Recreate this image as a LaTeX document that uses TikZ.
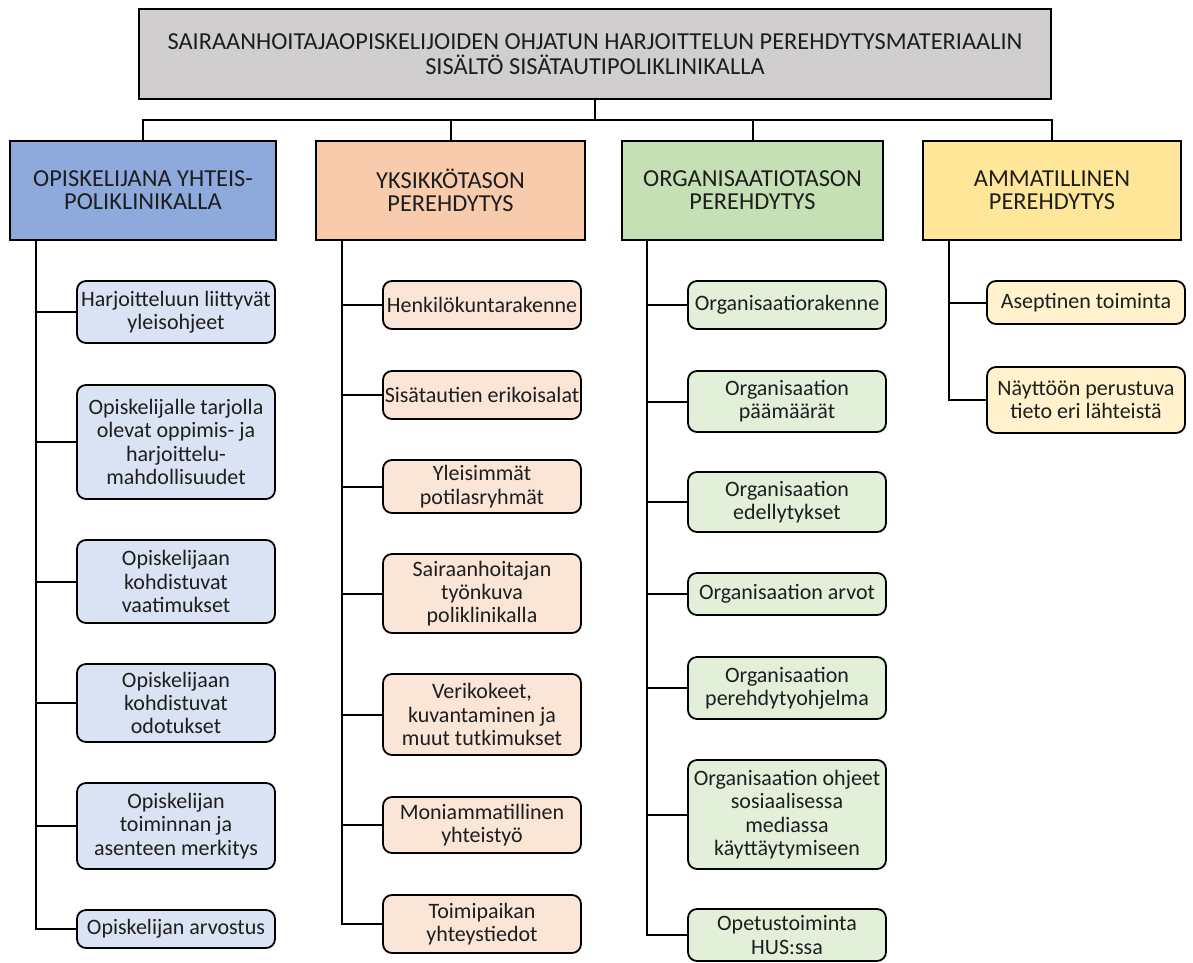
\documentclass[tikz,border=0pt]{standalone}
\usepackage{fontspec}
\setmainfont{Carlito}
\definecolor{cgrey}{HTML}{D0CECE}
\definecolor{cblue}{HTML}{8EA9DB}
\definecolor{cbluel}{HTML}{DAE3F3}
\definecolor{corange}{HTML}{F8CBAD}
\definecolor{corangel}{HTML}{FBE5D6}
\definecolor{cgreen}{HTML}{C5E0B4}
\definecolor{cgreenl}{HTML}{E2F0D9}
\definecolor{cyellow}{HTML}{FFE699}
\definecolor{cyellowl}{HTML}{FFF2CC}
\definecolor{ctext}{HTML}{1E1E1E}

\begin{document}
\begin{tikzpicture}[x=1pt,y=-1pt,
  head/.style={draw,line width=2pt,fill=cgrey,minimum width=912pt,minimum height=90pt,
    align=center,text=ctext,font=\fontsize{24.4}{25}\selectfont},
  cat/.style={draw,line width=2pt,minimum height=99pt,align=center,inner sep=2pt,
    text=ctext,font=\fontsize{24.4}{23}\selectfont},
  sub/.style={draw,line width=1.8pt,rounded corners=9pt,minimum width=198pt,align=center,
    inner sep=1pt,text=ctext,font=\fontsize{22}{23.3}\selectfont},
  bsub/.style={sub,fill=cbluel},
  osub/.style={sub,fill=corangel},
  gsub/.style={sub,fill=cgreenl},
  ysub/.style={sub,fill=cyellowl},
  link/.style={line width=2pt}]
  \useasboundingbox (0,0) rectangle (1193,962);

  \node[head] (top) at (595,54) {SAIRAANHOITAJAOPISKELIJOIDEN OHJATUN HARJOITTELUN PEREHDYTYSMATERIAALIN\\SISÄLTÖ SISÄTAUTIPOLIKLINIKALLA};

  % main categories
  \node[cat,fill=cblue,minimum width=266pt] (blue) at (143,190.5) {OPISKELIJANA YHTEIS-\\POLIKLINIKALLA};
  \node[cat,fill=corange,minimum width=269pt] (orange) at (450.5,190.5) {YKSIKKÖTASON\\PEREHDYTYS};
  \node[cat,fill=cgreen,minimum width=261pt] (green) at (752.5,190.5) {ORGANISAATIOTASON\\PEREHDYTYS};
  \node[cat,fill=cyellow,minimum width=258pt] (yellow) at (1052,190.5) {AMMATILLINEN\\PEREHDYTYS};

  \draw[link] (top.south) -- ++(0,20) -| (blue.north);
  \draw[link] (top.south) -- ++(0,20) -| (orange.north);
  \draw[link] (top.south) -- ++(0,20) -| (green.north);
  \draw[link] (top.south) -- ++(0,20) -| (yellow.north);

  % first column
  \node[bsub,minimum height=62pt] (b1) at (176,312) {Harjoitteluun liittyvät\\yleisohjeet};
  \node[bsub,minimum height=114pt] (b2) at (176,442) {Opiskelijalle tarjolla\\olevat oppimis- ja\\harjoittelu-\\mahdollisuudet};
  \node[bsub,minimum height=83pt] (b3) at (176,581.5) {Opiskelijaan\\kohdistuvat\\vaatimukset};
  \node[bsub,minimum height=78pt] (b4) at (176,703) {Opiskelijaan\\kohdistuvat\\odotukset};
  \node[bsub,minimum height=86pt] (b5) at (176,826) {Opiskelijan\\toiminnan ja\\asenteen merkitys};
  \node[bsub,minimum height=38pt] (b6) at (176,929) {Opiskelijan arvostus};

  % second column
  \node[osub,minimum height=48pt] (o1) at (482,305) {Henkilökuntarakenne};
  \node[osub,minimum height=48pt] (o2) at (482,395) {Sisätautien erikoisalat};
  \node[osub,minimum height=53pt] (o3) at (482,486.5) {Yleisimmät\\potilasryhmät};
  \node[osub,minimum height=79pt] (o4) at (482,593.5) {Sairaanhoitajan\\työnkuva\\poliklinikalla};
  \node[osub,minimum height=81pt] (o5) at (482,714.5) {Verikokeet,\\kuvantaminen ja\\muut tutkimukset};
  \node[osub,minimum height=56pt] (o6) at (482,825) {Moniammatillinen\\yhteistyö};
  \node[osub,minimum height=58pt] (o7) at (482,924) {Toimipaikan\\yhteystiedot};

  % third column
  \node[gsub,minimum height=48pt] (g1) at (787,305) {Organisaatiorakenne};
  \node[gsub,minimum height=61pt] (g2) at (787,401.5) {Organisaation\\päämäärät};
  \node[gsub,minimum height=60pt] (g3) at (787,502) {Organisaation\\edellytykset};
  \node[gsub,minimum height=42pt] (g4) at (787,594) {Organisaation arvot};
  \node[gsub,minimum height=62pt] (g5) at (787,688) {Organisaation\\perehdytyohjelma};
  \node[gsub,minimum height=109pt] (g6) at (787,814.5) {Organisaation ohjeet\\sosiaalisessa\\mediassa\\käyttäytymiseen};
  \node[gsub,minimum height=52pt] (g7) at (787,935) {Opetustoiminta\\HUS:ssa};

  % fourth column
  \node[ysub,minimum height=43pt] (y1) at (1086,302.5) {Aseptinen toiminta};
  \node[ysub,minimum height=66pt] (y2) at (1086,400) {Näyttöön perustuva\\tieto eri lähteistä};

  \path (blue.south west) ++(27,0) coordinate (bs);
  \path (orange.south west) ++(27,0) coordinate (os);
  \path (green.south west) ++(26,0) coordinate (gs);
  \path (yellow.south west) ++(27,0) coordinate (ys);

  \draw[link] (bs) |- (b1.west);
  \draw[link] (bs) |- (b2.west);
  \draw[link] (bs) |- (b3.west);
  \draw[link] (bs) |- (b4.west);
  \draw[link] (bs) |- (b5.west);
  \draw[link] (bs) |- (b6.west);

  \draw[link] (os) |- (o1.west);
  \draw[link] (os) |- (o2.west);
  \draw[link] (os) |- (o3.west);
  \draw[link] (os) |- (o4.west);
  \draw[link] (os) |- (o5.west);
  \draw[link] (os) |- (o6.west);
  \draw[link] (os) |- (o7.west);

  \draw[link] (gs) |- (g1.west);
  \draw[link] (gs) |- (g2.west);
  \draw[link] (gs) |- (g3.west);
  \draw[link] (gs) |- (g4.west);
  \draw[link] (gs) |- (g5.west);
  \draw[link] (gs) |- (g6.west);
  \draw[link] (gs) |- (g7.west);

  \draw[link] (ys) |- (y1.west);
  \draw[link] (ys) |- (y2.west);
\end{tikzpicture}
\end{document}
